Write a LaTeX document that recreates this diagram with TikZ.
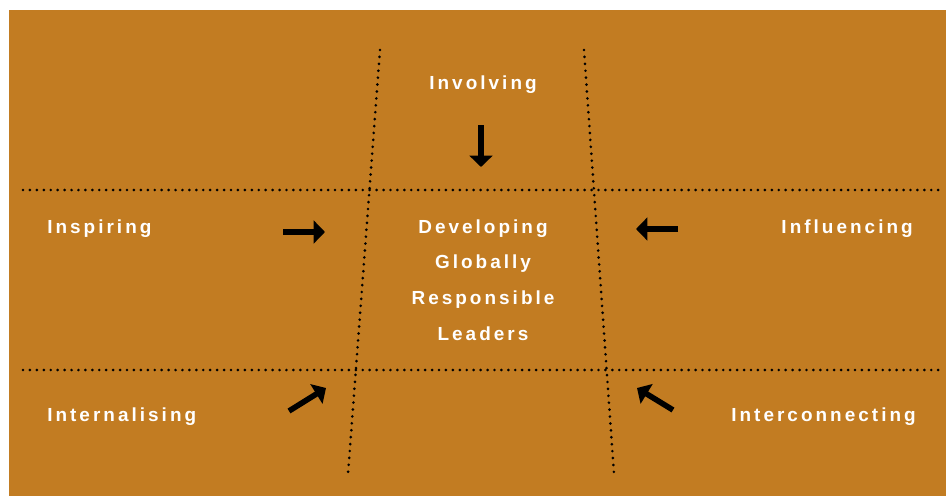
\documentclass[tikz,border=0pt]{standalone}
\usepackage{fontspec}
\usetikzlibrary{arrows.meta}
\setmainfont{Liberation Sans}
\newfontfamily\wordfont[LetterSpace=16]{Liberation Sans Bold}
\definecolor{ochre}{RGB}{194,124,34}

\tikzset{
  word/.style={text=white, inner sep=0pt, font=\wordfont\fontsize{14.2}{26.7}\selectfont},
  dotline/.style={line width=2.2pt, line cap=round, dash pattern=on 0pt off 5.2pt},
  push/.style={-{Triangle[length=8.5pt,width=17pt]}, line width=4.2pt, black},
}

\begin{document}
\begin{tikzpicture}[x=0.75pt, y=-0.75pt]
	\useasboundingbox (0,0) rectangle (946,496);
	\fill[ochre] (9,10) rectangle (946,496);

	% dotted grid
	\draw[dotline] (23,190) -- (941,190);
	\draw[dotline] (23,370) -- (941,370);
	\draw[dotline] (380,50) -- (348,474);
	\draw[dotline] (584,50) -- (614,474);

	% labels
	\node[word, anchor=base] (involving) at (483,89) {Involving};
	\node[word, anchor=base west] (inspiring) at (47,233) {Inspiring};
	\node[word, anchor=base east] (influencing) at (913,233) {Influencing};
	\node[word, anchor=base, align=center] (centre) at (483,340) {Developing\\Globally\\Responsible\\Leaders};
	\node[word, anchor=base west] (internalising) at (47,421) {Internalising};
	\node[word, anchor=base east] (interconnecting) at (916,421) {Interconnecting};

	% arrow ends
	\coordinate (down0) at (481,125);
	\coordinate (down1) at (481,167);
	\coordinate (right0) at (283,232);
	\coordinate (right1) at (325,232);
	\coordinate (left0) at (678,229);
	\coordinate (left1) at (636,229);
	\coordinate (up0) at (289,411);
	\coordinate (up1) at (326,388);
	\coordinate (back0) at (673,410);
	\coordinate (back1) at (637,388);

	\draw [push] (down0) -- (down1);
	\draw [push] (right0) -- (right1);
	\draw [push] (left0) -- (left1);
	\draw [push] (up0) -- (up1);
	\draw [push] (back0) -- (back1);
\end{tikzpicture}
\end{document}
